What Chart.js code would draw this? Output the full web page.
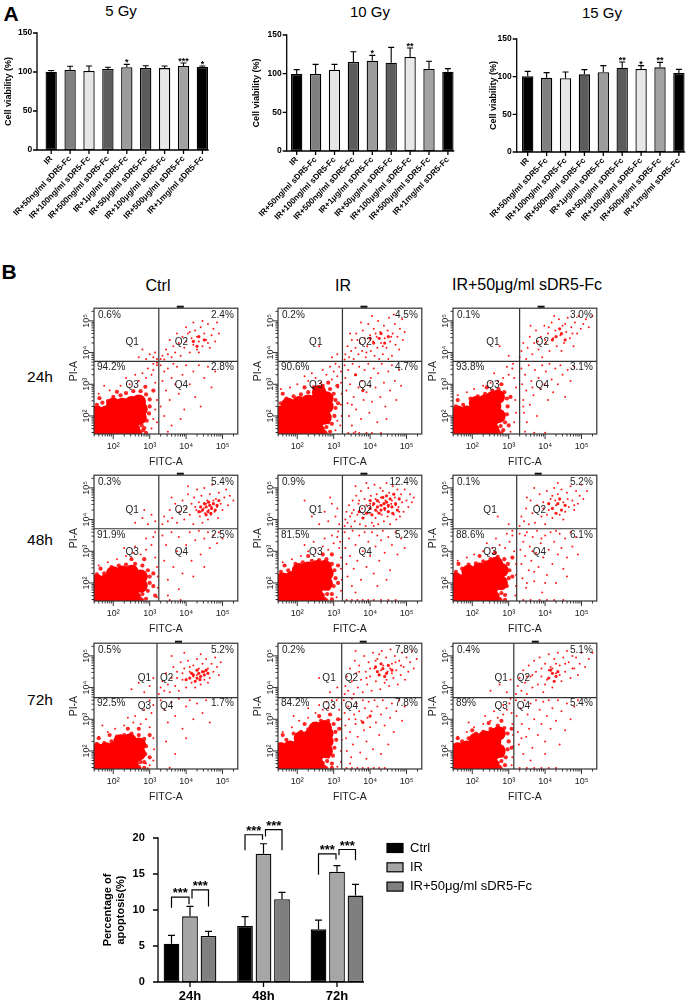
<!DOCTYPE html>
<html><head><meta charset="utf-8">
<script src="https://cdn.jsdelivr.net/npm/chart.js@4.4.1/dist/chart.umd.min.js"></script>
<style>
html,body{margin:0;padding:0;background:#fff}
body{position:relative;width:699px;height:1003px;overflow:hidden;font-family:'Liberation Sans',Arial,sans-serif}
canvas{position:absolute}
.t{position:absolute;transform:translate(-50%,-50%);white-space:nowrap;line-height:1;color:#000}
</style></head><body>
<div class="t" style="left:11px;top:13px;font-size:21px;font-weight:bold">A</div>
<div class="t" style="left:121px;top:10px;font-size:15px">5 Gy</div>
<div class="t" style="left:370px;top:11px;font-size:15px">10 Gy</div>
<div class="t" style="left:602px;top:12px;font-size:15px">15 Gy</div>
<div class="t" style="left:9px;top:271px;font-size:21px;font-weight:bold">B</div>
<div class="t" style="left:158px;top:286px;font-size:16px">Ctrl</div>
<div class="t" style="left:343px;top:286px;font-size:16px">IR</div>
<div class="t" style="left:527px;top:285px;font-size:16px">IR+50μg/ml sDR5-Fc</div>
<div class="t" style="left:40px;top:377px;font-size:15.5px">24h</div>
<div class="t" style="left:40px;top:540px;font-size:15.5px">48h</div>
<div class="t" style="left:40px;top:700px;font-size:15.5px">72h</div>
<script>
// ================= DATA =================
// Panel A: cell viability (%)
const doseLabels = ['IR','IR+50ng/ml sDR5-Fc','IR+100ng/ml sDR5-Fc','IR+500ng/ml sDR5-Fc','IR+1μg/ml sDR5-Fc','IR+50μg/ml sDR5-Fc','IR+100μg/ml sDR5-Fc','IR+500μg/ml sDR5-Fc','IR+1mg/ml sDR5-Fc'];
const via5 = [100.4,102.6,101.3,103.8,106,105,105,107.7,106.4];
const err5 = [1.6,4.7,6.4,2.2,3.8,3,2.7,3.8,1.3];
const sig5 = ['','','','','*','','','***','*'];
const via10 = [99.6,99.6,105.2,115,116.8,114.2,121.5,106,102.6];
const err10 = [5.6,12.4,6.8,13.4,6.9,19.8,11.7,10,3.9];
const sig10 = ['','','','','*','','**','',''];
const via15 = [100.4,98.7,97.8,103.1,105.8,112,110.2,112.4,104.9];
const err15 = [6.6,6.6,8.4,6.2,8.8,7.5,4.4,6.6,4.8];
const sig15 = ['','','','','','**','*','**',''];
const viaTicks = [0,50,100,150];

// Panel B bottom: percentage of apoptosis
const timeLabels = ['24h','48h','72h'];
const groupNames = ['Ctrl','IR','IR+50μg/ml sDR5-Fc'];
const apoCtrl = [5.32,7.78,7.31], apoCtrlErr = [1.16,1.29,1.29];
const apoIR = [9.12,17.8,15.3], apoIRErr = [1.38,1.4,0.85];
const apoSdr = [6.39,11.5,12.0], apoSdrErr = [0.65,0.95,1.56];
const apoTicks = [0,5,10,15,20];
const sigBrackets = [
  {g:0,a:0,b:1,top:11.8,la:10.3,lb:10.8,text:'***'},
  {g:0,a:1,b:2,top:12.8,la:11.6,lb:10.5,text:'***'},
  {g:1,a:0,b:1,top:20.45,la:18.3,lb:19.75,text:'***'},
  {g:1,a:1,b:2,top:21.15,la:20.2,lb:18.3,text:'***'},
  {g:2,a:0,b:1,top:17.8,la:14.9,lb:17.0,text:'***'},
  {g:2,a:1,b:2,top:18.4,la:17.6,lb:16.9,text:'***'}
];

// Flow cytometry (log10 FITC-A, log10 PI-A)
const flowDecades = [2,3,4,5];
const pct24 = [['0.6%','2.4%','94.2%','2.8%'],['0.2%','4.5%','90.6%','4.7%'],['0.1%','3.0%','93.8%','3.1%']];
const pct48 = [['0.3%','5.4%','91.9%','2.5%'],['0.9%','12.4%','81.5%','5.2%'],['0.1%','5.2%','88.6%','6.1%']];
const pct72 = [['0.5%','5.2%','92.5%','1.7%'],['0.2%','7.8%','84.2%','7.8%'],['0.4%','5.1%','89%','5.4%']];
const gateFITC = [[3.25,3.24,3.3],[3.25,3.24,3.22],[3.2,3.22,3.14]];
const gatePI = [3.72,3.71,3.68];

// --- 24h Ctrl
const c24Core = [[1.55,1.55],[1.8,1.55],[2.05,1.55],[2.3,1.55],[2.55,1.55],[1.55,1.85],[1.8,1.85],[2.05,1.85],[2.3,1.85],[2.55,1.85],[2.72,1.95],[1.55,2.1],[1.8,2.1],[2.05,2.1],[2.3,2.1],[2.55,2.15],[2.75,2.22],[2.0,2.35],[2.25,2.35],[2.5,2.4],[2.7,2.45]];
const c24Fringe = [[1.55,2.35],[1.7,2.42],[1.85,2.47],[2.0,2.6],[2.2,2.65],[2.35,2.72],[2.55,2.78],[2.75,2.78],[2.9,2.68],[3.0,2.52],[3.0,2.3],[2.98,2.08],[2.92,1.85],[2.85,1.62],[2.9,1.47],[1.62,2.56],[2.1,2.76],[2.88,2.92],[3.1,2.8],[2.72,1.5],[2.78,1.7],[2.68,1.62],[2.82,1.55],[2.75,1.45]];
const c24Clust = [[4.2,4.35],[4.35,4.5],[4.5,4.4],[4.3,4.2]];
const c24Dots = [[1.6,2.7],[1.9,2.8],[2.2,2.95],[2.45,3.0],[2.7,3.1],[2.9,3.2],[3.05,3.3],[3.1,3.45],[3.2,3.6],[2.95,3.5],[2.8,3.35],[3.15,3.05],[3.2,2.5],[3.15,2.2],[3.2,1.8],[2.6,3.3],[3.1,3.65],[3.2,3.68],[1.75,2.95],[2.35,3.2],[3.05,1.6],[3.1,1.9],
 [2.7,3.85],[2.9,3.8],[3.0,3.95],[3.1,3.85],[3.15,4.0],[3.2,3.8],[2.8,4.1],
 [3.3,3.8],[3.35,3.9],[3.4,3.78],[3.5,3.95],[3.45,4.1],[3.6,3.85],[3.65,4.2],[3.7,4.0],[3.8,4.3],[3.85,3.9],[3.9,4.5],[3.95,4.15],[4.0,4.35],[4.05,4.6],[4.1,4.0],[4.15,4.45],[4.2,4.25],[4.25,4.7],[4.3,4.1],[4.3,4.5],[4.35,4.35],[4.4,4.8],[4.45,4.2],[4.5,4.6],[4.55,4.4],[4.6,4.9],[4.65,4.15],[4.7,4.55],[4.75,4.75],[4.8,4.35],[4.85,4.95],[4.9,4.6],[4.2,4.95],[4.45,5.0],[3.75,4.6],[4.0,4.8],[4.6,4.3],[4.35,4.0],[3.55,4.4],[4.1,4.65],
 [3.3,3.6],[3.4,3.4],[3.35,3.1],[3.45,2.8],[3.5,3.5],[3.6,3.2],[3.55,2.5],[3.7,3.0],[3.75,3.55],[3.8,2.7],[3.9,3.3],[3.95,2.2],[4.0,3.6],[4.1,3.0],[4.2,3.4],[4.25,2.6],[4.35,3.6],[4.5,3.2],[4.6,3.55],[4.7,2.9],[3.4,2.0],[3.6,1.7],[3.3,2.3],[3.85,1.9],[4.4,2.3],[3.5,1.5],[3.65,3.65],[4.8,3.4]];
// --- 24h IR
const i24Core = [[1.55,1.55],[1.8,1.55],[2.05,1.55],[2.3,1.55],[2.55,1.55],[1.55,1.85],[1.8,1.85],[2.05,1.85],[2.3,1.85],[2.55,1.85],[2.75,1.95],[1.55,2.1],[1.8,2.15],[2.05,2.15],[2.3,2.15],[2.55,2.2],[2.8,2.3],[1.75,2.35],[2.05,2.4],[2.3,2.45],[2.55,2.5],[2.8,2.55],[2.6,2.75]];
const i24Fringe = [[1.55,2.4],[1.7,2.55],[1.9,2.62],[2.1,2.68],[2.3,2.75],[2.45,2.9],[2.7,2.95],[2.9,2.85],[3.0,2.7],[3.05,2.5],[3.05,2.25],[3.02,2.0],[2.95,1.75],[2.9,1.5],[2.85,3.05],[3.1,2.95],[1.6,2.7],[2.2,2.9],[3.12,2.4],[2.75,1.5],[2.8,1.65],[2.7,1.6],[2.85,1.8],[2.78,1.45]];
const i24Clust = [[4.1,4.3],[4.25,4.45],[4.4,4.3],[4.3,4.6],[4.5,4.5],[4.0,4.45],[3.6,3.3],[3.8,2.8]];
const i24Dots = [[3.3,3.78],[3.32,3.95],[3.38,4.2],[3.42,3.85],[3.48,4.05],[3.5,4.4],[3.55,3.8],[3.6,4.15],[3.62,4.6],[3.68,3.95],[3.72,4.3],[3.78,4.05],[3.8,4.7],[3.85,4.45],[3.88,3.85],[3.92,4.2],[3.95,4.9],[4.0,4.55],[4.02,4.05],[4.08,4.35],[4.1,4.75],[4.12,3.9],[4.18,4.5],[4.2,4.15],[4.22,5.0],[4.28,4.65],[4.3,4.3],[4.35,3.95],[4.38,4.85],[4.4,4.45],[4.45,4.15],[4.48,4.7],[4.52,5.1],[4.55,4.35],[4.6,3.9],[4.62,4.6],[4.68,4.9],[4.7,4.25],[4.75,4.5],[4.8,4.1],[4.82,4.75],[4.88,5.05],[4.9,4.4],[4.95,4.65],[3.45,4.6],[3.75,4.95],[4.05,5.15],[4.25,3.8],[4.5,3.8],[4.65,5.2],[3.9,4.0],[4.15,4.6],[4.35,4.2],[4.58,4.5],[3.65,4.4],
 [3.3,3.6],[3.32,3.2],[3.35,2.8],[3.38,2.4],[3.4,3.45],[3.42,2.0],[3.45,3.0],[3.5,1.7],[3.52,3.65],[3.55,2.6],[3.6,3.3],[3.62,2.2],[3.68,2.9],[3.7,3.55],[3.75,1.9],[3.78,3.1],[3.82,2.5],[3.85,3.45],[3.9,2.75],[3.95,3.65],[3.98,2.1],[4.02,3.2],[4.05,2.45],[4.1,3.5],[4.15,2.9],[4.2,1.8],[4.22,3.35],[4.28,2.6],[4.32,3.65],[4.38,3.05],[4.42,2.3],[4.5,3.4],[4.55,2.8],[4.6,3.6],[4.68,3.1],[4.72,2.5],[4.8,3.45],[4.85,2.95],[3.4,1.46],[3.55,1.46],[3.7,1.46],[3.9,1.46],[4.05,1.46],[4.3,1.46],[3.6,1.5],[4.45,1.9],[4.0,2.95],[3.5,2.35],
 [1.55,2.85],[1.8,2.9],[2.0,3.0],[2.3,3.1],[2.5,3.2],[2.65,3.05],[2.8,3.3],[2.95,3.15],[3.0,3.4],[3.1,3.25],[3.15,3.55],[3.2,3.05],[3.22,2.7],[3.2,2.35],[3.22,2.0],[3.18,1.7],[2.9,3.55],[3.05,3.65],[2.7,3.45],[2.4,3.35],[3.2,3.4],[3.12,2.9],[2.2,3.25],[3.05,1.55],[3.1,1.85],
 [2.95,3.85],[3.1,3.95],[2.6,4.2]];
// --- 24h sDR5-Fc
const s24Core = [[1.55,1.55],[1.8,1.55],[2.05,1.55],[2.3,1.55],[2.55,1.55],[1.55,1.85],[1.8,1.85],[2.05,1.85],[2.3,1.85],[2.55,1.9],[2.72,2.0],[1.6,2.1],[1.85,2.1],[2.1,2.15],[2.35,2.2],[2.6,2.3],[2.1,2.4],[2.35,2.45],[2.55,2.55],[2.7,2.6]];
const s24Fringe = [[1.55,2.3],[1.75,2.35],[1.95,2.55],[2.15,2.62],[2.35,2.7],[2.55,2.8],[2.72,2.85],[2.88,2.75],[2.95,2.55],[2.97,2.3],[2.95,2.05],[2.9,1.8],[2.85,1.55],[1.6,2.5],[2.4,2.9],[2.8,3.0],[3.05,2.6],[3.0,1.7],[2.72,1.5],[2.78,1.68],[2.68,1.62],[2.8,1.45]];
const s24Clust = [[4.3,4.5],[4.45,4.6],[4.55,4.4],[4.2,4.4],[4.4,4.75]];
const s24Dots = [[3.3,3.85],[3.35,4.05],[3.4,4.3],[3.48,3.8],[3.52,4.15],[3.58,4.5],[3.65,3.95],[3.7,4.3],[3.75,4.7],[3.82,4.1],[3.88,4.5],[3.92,3.85],[3.98,4.85],[4.02,4.3],[4.08,4.6],[4.12,4.05],[4.18,4.95],[4.22,4.45],[4.28,4.7],[4.32,4.2],[4.38,5.05],[4.42,4.55],[4.48,4.85],[4.52,4.3],[4.58,4.65],[4.62,5.1],[4.68,4.45],[4.72,4.8],[4.78,4.2],[4.82,4.95],[4.88,4.6],[4.92,5.15],[4.98,4.75],[5.05,4.9],[5.12,5.05],[5.2,4.8],[5.3,5.15],[4.1,4.8],[4.45,4.05],[3.6,4.85],[4.25,5.15],[4.75,4.6],[4.0,4.4],[4.55,4.9],[3.8,4.35],
 [3.35,3.5],[3.37,3.0],[3.4,2.5],[3.42,2.1],[3.45,3.3],[3.48,2.8],[3.5,1.8],[3.55,3.6],[3.58,2.35],[3.62,3.1],[3.68,2.65],[3.72,3.45],[3.78,2.0],[3.82,3.2],[3.88,2.85],[3.92,3.6],[3.98,3.0],[4.02,3.4],[4.08,2.5],[4.12,3.65],[4.18,3.15],[4.22,2.75],[4.28,3.5],[4.35,3.0],[4.42,3.6],[4.48,3.3],[4.55,2.6],[4.62,3.45],[4.7,3.1],[4.8,3.55],[3.45,1.5],[3.7,1.47],[4.0,1.47],[3.4,2.3],[3.65,2.9],
 [1.6,2.65],[1.85,2.75],[2.05,2.85],[2.3,2.95],[2.5,3.05],[2.7,3.1],[2.85,3.2],[3.0,3.3],[3.1,3.5],[3.15,3.2],[3.2,2.9],[3.18,2.5],[3.2,2.1],[3.15,1.8],[2.95,3.55],[3.12,3.65],[2.6,3.35],[3.05,1.5],
 [3.0,3.9],[2.75,4.2]];
// --- 48h Ctrl
const c48Core = [[1.55,1.55],[1.8,1.55],[2.05,1.55],[2.3,1.55],[2.55,1.55],[1.55,1.8],[1.8,1.8],[2.05,1.8],[2.3,1.8],[2.55,1.85],[2.75,1.92],[1.55,2.05],[1.8,2.05],[2.05,2.1],[2.3,2.1],[2.55,2.15],[2.75,2.2],[2.0,2.3],[2.25,2.32],[2.5,2.35]];
const c48Fringe = [[1.55,2.27],[1.75,2.3],[1.95,2.5],[2.15,2.55],[2.35,2.58],[2.6,2.6],[2.8,2.55],[2.95,2.4],[3.0,2.2],[3.0,2.0],[2.95,1.75],[2.9,1.5],[3.1,1.9],[3.15,1.6],[1.65,2.45],[2.5,2.75],[2.85,2.75],[3.1,2.3],[2.75,1.5],[2.8,1.65],[2.7,1.6],[2.85,1.8],[2.8,1.45]];
const c48Clust = [[4.45,4.3],[4.55,4.4],[4.6,4.25],[4.65,4.45],[4.7,4.35],[4.75,4.5],[4.5,4.5],[4.8,4.3],[4.4,4.4],[4.62,4.55],[4.85,4.45],[4.68,4.2],[4.55,4.15],[4.9,4.6],[4.35,4.25]];
const c48Dots = [[3.35,3.85],[3.4,4.1],[3.5,3.95],[3.55,4.3],[3.62,4.05],[3.7,4.5],[3.75,3.9],[3.82,4.25],[3.9,4.6],[3.95,4.0],[4.0,4.35],[4.05,4.8],[4.1,4.15],[4.15,4.5],[4.2,3.85],[4.22,4.7],[4.28,4.3],[4.3,4.95],[4.35,4.55],[4.38,4.1],[4.42,4.75],[4.48,4.35],[4.5,5.0],[4.52,4.2],[4.58,4.6],[4.6,4.0],[4.65,4.8],[4.7,4.4],[4.72,5.1],[4.78,4.25],[4.82,4.65],[4.88,4.05],[4.9,4.85],[4.95,4.5],[5.0,4.3],[5.05,4.7],[5.1,4.95],[5.15,4.45],[5.2,4.75],[5.3,4.6],[4.45,3.9],[4.25,4.4],[4.62,4.3],[4.75,4.6],[4.55,4.5],[4.85,4.4],[4.4,4.25],[4.68,4.15],[3.6,4.7],[4.05,5.05],
 [3.35,3.5],[3.4,2.7],[3.45,3.2],[3.5,2.1],[3.6,3.6],[3.65,2.5],[3.75,3.0],[3.8,3.45],[3.9,2.3],[4.0,3.2],[4.1,3.6],[4.15,2.7],[4.25,3.35],[4.35,3.65],[4.4,2.9],[4.5,3.4],[4.6,3.6],[4.65,3.1],[4.75,3.5],[4.85,3.25],[4.9,3.6],[5.0,3.4],[3.5,1.6],[3.8,1.8],[4.2,2.2],[3.55,1.46],[3.85,1.46],[4.5,2.5],
 [1.6,2.55],[1.85,2.65],[2.1,2.75],[2.35,2.85],[2.55,2.95],[2.75,2.9],[2.9,3.05],[3.05,3.2],[3.1,3.45],[3.15,2.8],[3.2,2.5],[3.22,2.2],[3.22,1.85],[3.2,1.55],[2.9,3.4],[3.15,3.6],[2.6,3.15],[2.3,3.1],
 [2.6,3.9],[2.8,4.05],[2.95,3.85],[3.05,4.15],[3.15,3.95],[2.85,4.3]];
// --- 48h IR
const i48Core = [[1.55,1.55],[1.8,1.55],[2.05,1.55],[2.3,1.55],[2.55,1.55],[1.55,1.85],[1.8,1.85],[2.05,1.85],[2.3,1.85],[2.55,1.9],[2.78,1.98],[1.6,2.1],[1.85,2.15],[2.1,2.15],[2.35,2.2],[2.6,2.25],[2.8,2.3],[2.05,2.4],[2.3,2.45],[2.55,2.5],[2.75,2.5]];
const i48Fringe = [[1.55,2.35],[1.75,2.4],[1.95,2.6],[2.15,2.65],[2.4,2.7],[2.6,2.72],[2.8,2.75],[2.95,2.6],[3.02,2.4],[3.05,2.15],[3.0,1.9],[2.95,1.65],[2.95,1.48],[1.65,2.55],[2.3,2.85],[2.7,2.9],[2.95,2.9],[3.12,2.55],[3.12,2.0],[2.75,1.5],[2.82,1.65],[2.7,1.62],[2.85,1.82],[2.8,1.45]];
const i48Clust = [[3.9,4.2],[4.0,4.35],[4.05,4.15],[4.1,4.5],[4.15,4.3],[4.2,4.6],[4.25,4.2],[4.3,4.45],[4.35,4.7],[4.4,4.35],[4.45,4.55],[4.5,4.25],[4.55,4.65],[4.6,4.4],[4.65,4.8],[4.7,4.5],[4.75,4.3],[4.8,4.65],[4.2,4.4],[4.38,4.5],[4.5,4.45],[3.8,4.05],[3.7,4.25],[4.0,4.6],[4.62,4.2],[4.3,4.3],[4.45,4.75]];
const i48Dots = [[3.3,3.8],[3.32,4.0],[3.35,4.25],[3.38,3.9],[3.42,4.45],[3.45,4.1],[3.48,3.78],[3.52,4.6],[3.55,4.3],[3.58,3.95],[3.62,4.75],[3.65,4.15],[3.68,4.5],[3.72,3.85],[3.75,4.9],[3.78,4.35],[3.82,4.05],[3.85,4.65],[3.88,3.8],[3.9,4.45],[3.95,5.0],[3.98,4.2],[4.02,4.75],[4.05,3.9],[4.08,4.45],[4.12,5.1],[4.15,4.05],[4.18,4.8],[4.22,3.85],[4.25,4.55],[4.28,5.0],[4.32,4.15],[4.35,4.9],[4.38,3.95],[4.42,4.6],[4.45,5.15],[4.48,4.1],[4.52,4.85],[4.55,3.85],[4.58,4.5],[4.62,5.05],[4.65,4.15],[4.68,4.7],[4.72,4.0],[4.75,4.95],[4.78,4.4],[4.82,4.1],[4.85,4.8],[4.88,4.55],[4.92,4.25],[4.95,4.95],[5.0,4.6],[5.05,4.4],[5.1,4.8],[5.15,4.55],[5.2,4.7],[3.6,5.05],[3.9,5.15],[4.1,3.8],[4.4,4.3],[4.6,4.6],[4.3,4.7],[4.0,4.5],[4.2,4.25],[4.5,4.4],[3.7,4.6],[4.8,4.25],[4.15,4.65],[4.7,4.45],[3.5,4.2],
 [3.3,3.6],[3.32,3.1],[3.35,2.6],[3.38,2.2],[3.42,3.4],[3.45,2.85],[3.5,1.9],[3.52,3.65],[3.55,2.45],[3.6,3.2],[3.65,2.7],[3.7,3.5],[3.75,2.1],[3.8,3.0],[3.85,3.6],[3.9,2.5],[3.95,3.3],[4.0,2.85],[4.05,3.6],[4.1,2.3],[4.15,3.15],[4.2,3.5],[4.25,2.7],[4.3,3.35],[4.35,3.65],[4.4,2.95],[4.5,3.45],[4.55,2.4],[4.6,3.2],[4.7,3.6],[4.75,2.9],[4.85,3.4],[4.95,3.1],[3.35,1.46],[3.5,1.46],[3.65,1.46],[3.8,1.46],[3.95,1.46],[4.1,1.46],[4.3,1.46],[4.5,1.46],[4.7,1.46],[3.6,1.7],[4.2,1.9],[4.45,2.1],
 [1.6,2.65],[1.85,2.75],[2.1,2.85],[2.3,3.0],[2.5,3.05],[2.7,3.15],[2.85,3.05],[3.0,3.25],[3.1,3.45],[3.15,3.1],[3.2,2.8],[3.2,2.45],[3.22,2.1],[3.2,1.75],[2.95,3.5],[3.12,3.62],[2.75,3.4],[2.45,3.3],[3.18,3.3],[2.2,3.2],[3.08,1.55],
 [2.4,4.1],[2.6,3.85],[2.75,4.25],[2.85,3.95],[2.95,4.5],[3.05,4.1],[3.15,3.85],[3.1,4.35],[2.2,4.6],[2.9,4.7]];
// --- 48h sDR5-Fc
const s48Core = [[1.55,1.55],[1.8,1.55],[2.05,1.55],[2.3,1.55],[2.55,1.55],[1.55,1.85],[1.8,1.85],[2.05,1.85],[2.3,1.85],[2.55,1.9],[2.78,2.0],[1.55,2.1],[1.85,2.12],[2.1,2.15],[2.35,2.2],[2.6,2.3],[2.8,2.4],[1.9,2.35],[2.2,2.42],[2.45,2.5],[2.65,2.6]];
const s48Fringe = [[1.55,2.35],[1.72,2.45],[1.9,2.58],[2.1,2.62],[2.3,2.68],[2.5,2.75],[2.7,2.82],[2.88,2.75],[2.98,2.6],[3.02,2.4],[3.0,2.15],[2.95,1.9],[2.9,1.62],[2.9,1.47],[1.62,2.6],[2.2,2.85],[2.62,2.95],[3.1,2.8],[3.1,2.2],[2.75,1.5],[2.8,1.68],[2.7,1.62],[2.85,1.85],[2.78,1.45]];
const s48Clust = [[4.2,4.35],[4.35,4.5],[4.45,4.3],[4.3,4.2],[4.55,4.45],[4.1,4.5],[4.4,4.65]];
const s48Dots = [[3.3,3.8],[3.35,4.1],[3.42,3.95],[3.48,4.35],[3.55,3.85],[3.6,4.6],[3.65,4.2],[3.72,3.9],[3.78,4.45],[3.85,4.8],[3.9,4.1],[3.95,4.55],[4.0,3.85],[4.05,4.9],[4.1,4.3],[4.15,4.65],[4.2,4.05],[4.25,5.0],[4.3,4.45],[4.35,4.8],[4.4,4.15],[4.45,4.95],[4.5,4.55],[4.55,4.25],[4.6,4.85],[4.65,4.4],[4.7,5.05],[4.75,4.6],[4.8,4.3],[4.85,4.9],[4.9,4.5],[4.95,4.75],[5.0,5.1],[5.05,4.65],[5.15,4.9],[3.7,5.0],[4.2,4.75],[4.5,4.0],[3.95,4.35],[4.62,4.65],[3.5,4.7],[4.35,5.15],[4.8,4.45],[4.05,4.15],[4.28,4.6],
 [3.3,3.55],[3.32,3.05],[3.35,2.6],[3.38,2.15],[3.4,3.3],[3.45,2.85],[3.48,1.85],[3.5,3.6],[3.55,2.4],[3.58,3.15],[3.62,2.7],[3.66,3.45],[3.7,2.05],[3.75,2.95],[3.78,3.65],[3.82,2.5],[3.88,3.25],[3.92,1.7],[3.95,2.8],[4.0,3.5],[4.05,2.25],[4.1,3.05],[4.15,3.6],[4.2,2.6],[4.25,3.3],[4.3,2.0],[4.35,2.9],[4.4,3.55],[4.45,3.1],[4.5,2.45],[4.55,3.4],[4.6,2.8],[4.7,3.6],[4.75,3.15],[4.85,3.45],[4.9,2.9],[3.4,1.46],[3.6,1.46],[3.85,1.46],[4.05,1.46],[4.25,1.46],[4.5,1.46],[3.5,2.0],[3.7,2.35],[4.0,2.0],[3.65,3.0],[3.9,3.4],[4.3,3.65],[3.45,3.5],[4.6,2.2],
 [1.6,2.7],[1.85,2.8],[2.05,2.9],[2.3,3.0],[2.55,3.1],[2.75,3.2],[2.9,3.1],[3.02,3.3],[3.1,3.5],[3.15,3.0],[3.2,2.6],[3.2,2.25],[3.2,1.9],[3.18,1.6],[2.95,3.55],[3.1,3.65],[2.65,3.4],[2.4,3.25],
 [3.0,3.85],[2.7,4.1]];
// --- 72h Ctrl
const c72Core = [[1.55,1.52],[1.8,1.52],[2.05,1.52],[2.3,1.52],[2.5,1.52],[1.55,1.8],[1.8,1.8],[2.05,1.8],[2.3,1.8],[2.55,1.82],[2.7,1.92],[1.55,2.02],[1.8,2.05],[2.05,2.08],[2.3,2.1],[2.55,2.15],[2.7,2.2],[2.2,2.3],[2.45,2.32]];
const c72Fringe = [[1.55,2.22],[1.75,2.25],[1.95,2.3],[2.1,2.45],[2.3,2.5],[2.5,2.55],[2.7,2.5],[2.85,2.38],[2.9,2.15],[2.88,1.9],[2.85,1.65],[2.85,1.47],[1.6,2.4],[1.9,2.5],[2.4,2.7],[2.7,2.7],[3.0,2.5],[3.0,1.8],[2.7,1.5],[2.75,1.65],[2.65,1.6],[2.72,1.45]];
const c72Clust = [[4.1,4.3],[4.2,4.4],[4.3,4.3],[4.35,4.45],[4.4,4.35],[4.45,4.5],[4.25,4.2],[4.5,4.4],[4.55,4.55],[4.15,4.45],[4.38,4.25],[4.6,4.45],[4.0,4.25],[4.3,4.55]];
const c72Dots = [[3.25,3.8],[3.3,4.0],[3.35,4.2],[3.4,3.9],[3.45,4.45],[3.5,4.1],[3.55,3.85],[3.6,4.3],[3.65,4.65],[3.7,4.05],[3.75,4.5],[3.8,3.9],[3.85,4.8],[3.9,4.25],[3.95,4.6],[4.0,4.0],[4.05,4.85],[4.1,4.5],[4.15,4.15],[4.2,4.7],[4.25,4.0],[4.3,4.9],[4.35,4.6],[4.4,4.1],[4.45,4.75],[4.5,4.25],[4.55,4.9],[4.6,4.6],[4.65,4.3],[4.7,4.75],[4.75,4.5],[4.8,4.95],[4.85,4.65],[4.9,4.4],[4.95,4.8],[3.6,5.0],[3.95,5.1],[4.4,5.05],[3.75,4.3],[4.1,4.65],[4.5,4.5],[4.2,4.35],[4.6,4.15],[3.9,4.45],[4.3,4.4],
 [3.3,3.6],[3.4,3.3],[3.5,2.9],[3.6,3.55],[3.7,3.1],[3.8,3.65],[3.9,2.7],[4.0,3.4],[4.1,3.6],[4.2,3.0],[4.3,3.5],[4.45,3.2],[4.55,3.6],[4.65,2.9],[3.45,2.3],[3.7,1.9],[4.0,2.4],[3.55,1.47],
 [1.6,2.45],[1.85,2.6],[2.05,2.7],[2.3,2.8],[2.55,2.9],[2.75,2.85],[2.9,3.0],[3.0,2.75],[3.05,3.2],[3.1,3.45],[3.1,2.4],[3.12,2.05],[3.1,1.7],[2.85,3.3],[2.6,3.1],[3.0,3.6],[2.4,3.05],[1.7,2.8],[2.95,1.45],[3.0,1.55],[2.9,1.6],
 [2.5,3.95],[2.7,4.15],[2.85,3.85],[3.0,4.05],[3.1,4.3]];
// --- 72h IR
const i72Core = [[1.55,1.55],[1.8,1.55],[2.05,1.55],[2.3,1.55],[2.55,1.55],[1.55,1.85],[1.8,1.85],[2.05,1.85],[2.3,1.85],[2.55,1.9],[2.78,2.0],[1.55,2.05],[1.8,2.1],[2.05,2.15],[2.3,2.2],[2.55,2.25],[2.8,2.3],[2.1,2.4],[2.35,2.45],[2.6,2.5],[2.8,2.55],[2.5,2.7],[2.75,2.75]];
const i72Fringe = [[1.55,2.2],[1.7,2.35],[1.9,2.55],[2.1,2.6],[2.3,2.68],[2.45,2.85],[2.65,2.95],[2.85,2.95],[3.0,2.85],[3.05,2.6],[3.07,2.35],[3.02,2.1],[2.98,1.85],[2.95,1.6],[2.95,1.47],[1.6,2.5],[2.2,2.85],[2.6,3.1],[2.9,3.15],[3.12,3.0],[3.15,2.7],[2.75,1.5],[2.82,1.68],[2.7,1.62],[2.85,1.82],[2.8,1.45]];
const i72Clust = [[4.2,4.5],[4.35,4.6],[4.45,4.45],[4.3,4.75],[4.5,4.7],[4.15,4.65],[4.4,4.35],[4.6,4.55],[4.25,4.4],[3.8,2.9],[4.0,3.1]];
const i72Dots = [[3.3,3.8],[3.32,4.05],[3.36,4.35],[3.4,3.9],[3.45,4.6],[3.5,4.2],[3.55,3.8],[3.58,4.85],[3.62,4.45],[3.66,4.0],[3.7,4.7],[3.75,4.25],[3.8,3.85],[3.84,5.0],[3.88,4.5],[3.92,4.1],[3.96,4.8],[4.0,4.35],[4.04,3.9],[4.08,5.1],[4.12,4.6],[4.16,4.2],[4.2,4.9],[4.24,4.4],[4.28,3.95],[4.32,5.15],[4.36,4.7],[4.4,4.15],[4.44,4.95],[4.48,4.5],[4.52,4.05],[4.56,5.2],[4.6,4.75],[4.64,4.3],[4.68,5.0],[4.72,4.55],[4.76,4.1],[4.8,4.85],[4.84,4.4],[4.88,5.1],[4.92,4.65],[4.96,4.25],[5.0,4.95],[5.05,4.5],[5.1,4.8],[5.15,5.15],[5.2,4.6],[5.28,4.9],[3.6,5.15],[4.0,4.6],[4.3,4.55],[4.55,4.6],[4.15,4.85],[4.7,4.8],[3.9,4.3],[4.45,4.25],[4.85,4.7],[4.25,5.05],[3.7,4.5],[4.6,4.45],
 [3.28,3.6],[3.3,3.2],[3.32,2.8],[3.34,2.4],[3.36,2.0],[3.4,3.4],[3.42,3.0],[3.45,2.6],[3.48,1.8],[3.5,3.65],[3.53,2.2],[3.56,3.15],[3.6,2.85],[3.63,3.5],[3.66,2.45],[3.7,3.25],[3.73,1.95],[3.76,2.95],[3.8,3.6],[3.83,2.65],[3.86,3.35],[3.9,2.3],[3.93,3.05],[3.96,3.55],[4.0,2.75],[4.04,3.25],[4.08,2.05],[4.12,3.6],[4.16,2.9],[4.2,3.4],[4.25,2.5],[4.3,3.15],[4.35,3.6],[4.4,2.8],[4.45,3.35],[4.5,2.2],[4.55,3.05],[4.6,3.5],[4.65,2.6],[4.72,3.25],[4.8,3.6],[4.88,2.95],[4.95,3.4],[3.35,1.46],[3.5,1.46],[3.65,1.46],[3.8,1.46],[3.95,1.46],[4.1,1.46],[4.25,1.46],[4.4,1.46],[3.45,1.6],[3.9,1.75],[4.3,1.9],[3.6,3.0],
 [1.6,2.6],[1.85,2.75],[2.05,2.95],[2.3,3.05],[2.5,3.2],[2.7,3.3],[2.85,3.35],[3.0,3.45],[3.08,3.6],[3.15,3.3],[3.2,3.0],[3.2,2.7],[3.22,2.35],[3.2,2.0],[3.2,1.65],[2.95,3.6],[2.6,3.45],[2.3,3.35],[3.12,3.68],[1.9,3.1],[2.8,3.55],[3.1,1.5],
 [2.9,3.85],[3.1,4.0],[2.6,4.3]];
// --- 72h sDR5-Fc
const s72Core = [[1.55,1.55],[1.8,1.55],[2.05,1.55],[2.3,1.55],[2.55,1.55],[1.55,1.82],[1.8,1.85],[2.05,1.85],[2.3,1.85],[2.55,1.9],[2.72,2.0],[1.6,2.05],[1.85,2.1],[2.1,2.15],[2.35,2.2],[2.6,2.3],[2.1,2.35],[2.35,2.42],[2.6,2.5],[2.72,2.55]];
const s72Fringe = [[1.55,2.15],[1.72,2.3],[1.9,2.4],[2.1,2.55],[2.3,2.6],[2.5,2.7],[2.7,2.8],[2.88,2.72],[2.97,2.55],[3.0,2.3],[2.97,2.05],[2.92,1.8],[2.9,1.55],[1.6,2.4],[2.0,2.65],[2.45,2.88],[2.8,2.95],[3.08,2.7],[3.08,2.1],[2.75,1.5],[2.8,1.68],[2.7,1.62],[2.82,1.85],[2.78,1.45]];
const s72Clust = [[4.1,4.3],[4.2,4.45],[4.3,4.35],[4.15,4.55],[4.35,4.5],[4.25,4.2]];
const s72Dots = [[3.2,3.8],[3.25,4.05],[3.3,4.3],[3.35,3.9],[3.4,4.55],[3.45,4.15],[3.5,3.8],[3.55,4.7],[3.6,4.35],[3.65,4.0],[3.7,4.85],[3.75,4.5],[3.8,4.1],[3.85,4.95],[3.9,4.6],[3.95,3.85],[4.0,4.75],[4.05,4.25],[4.1,5.05],[4.15,4.65],[4.2,4.0],[4.25,4.9],[4.3,4.45],[4.35,5.1],[4.4,4.7],[4.45,4.2],[4.5,4.95],[4.55,4.5],[4.6,5.15],[4.65,4.8],[4.7,4.3],[4.75,5.0],[4.8,4.6],[4.85,4.95],[4.9,4.4],[4.95,4.75],[5.0,5.1],[5.1,4.65],[5.2,4.9],[5.3,5.1],[3.9,4.35],[4.1,4.55],[4.4,4.4],[3.65,4.4],[4.55,4.75],[4.0,4.1],[4.3,4.75],[4.75,4.6],[3.5,4.35],[4.2,4.6],
 [3.2,3.6],[3.22,3.1],[3.25,2.6],[3.28,2.2],[3.32,3.35],[3.36,2.85],[3.4,1.9],[3.44,3.6],[3.48,2.45],[3.52,3.15],[3.56,2.7],[3.6,3.5],[3.65,2.1],[3.7,3.0],[3.75,3.6],[3.8,2.5],[3.85,3.3],[3.9,2.85],[3.95,3.55],[4.0,2.3],[4.05,3.1],[4.1,3.6],[4.15,2.7],[4.2,3.35],[4.3,2.95],[4.35,3.6],[4.45,3.25],[4.55,2.65],[4.6,3.5],[4.7,3.0],[4.8,3.4],[4.9,3.6],[3.3,1.46],[3.5,1.46],[3.7,1.46],[3.9,1.46],[4.1,1.46],[4.3,1.46],[3.6,1.7],[4.0,1.9],[4.4,2.2],[3.35,2.4],
 [1.6,2.45],[1.85,2.6],[2.05,2.75],[2.3,2.85],[2.5,2.95],[2.7,3.05],[2.85,3.15],[2.95,3.3],[3.02,3.5],[3.08,3.2],[3.1,2.85],[3.12,2.5],[3.12,2.15],[3.1,1.8],[3.08,1.55],[2.85,3.45],[2.6,3.25],[3.05,3.65],[2.35,3.1],[1.9,2.9],
 [2.5,3.9],[2.75,4.1],[2.95,3.85],[3.05,4.25]];

// ================= RENDERING =================
const FONT = "'Liberation Sans', Arial, sans-serif";
Chart.defaults.font.family = FONT;
Chart.defaults.color = '#000';
Chart.defaults.animation = false;
Chart.defaults.responsive = false;
Chart.defaults.events = [];
Chart.defaults.plugins.legend.display = false;
Chart.defaults.plugins.tooltip.enabled = false;
const SUP = {2:'²',3:'³',4:'⁴',5:'⁵'};
const X_MIN = 1.47, X_MAX = 5.42, Y_MIN = 1.43, Y_MAX = 5.40;
const colLeft = [94, 278, 453], rowTop = [307, 474, 642];
const FW = 145, FH = 127;

function mkCanvas(left, top, w, h) {
  const c = document.createElement('canvas');
  c.width = w; c.height = h;
  c.style.left = left + 'px'; c.style.top = top + 'px';
  c.style.width = w + 'px'; c.style.height = h + 'px';
  document.body.appendChild(c);
  return c;
}
const toXY = a => a.map(p => ({x: p[0], y: p[1]}));

const gpAxes = {
  id: 'gpAxes',
  afterDraw(chart, args, o) {
    const {ctx, chartArea: ca, scales: {x, y}} = chart;
    const ax = ca.left + o.offset;
    const dsN = chart.data.datasets.length;
    const meta = chart.getDatasetMeta(dsN - 1);
    const last = meta.data[meta.data.length - 1];
    const xEnd = last.x + last.width / 2;
    const y0 = y.getPixelForValue(0);
    ctx.save();
    ctx.strokeStyle = '#000'; ctx.lineWidth = o.lw; ctx.lineCap = 'square';
    ctx.beginPath();
    ctx.moveTo(ax, y.getPixelForValue(y.max)); ctx.lineTo(ax, y0); ctx.lineTo(xEnd, y0);
    ctx.stroke();
    ctx.lineCap = 'butt';
    ctx.beginPath();
    y.ticks.forEach(t => { const py = y.getPixelForValue(t.value); ctx.moveTo(ax - o.tick, py); ctx.lineTo(ax, py); });
    x.ticks.forEach((t, i) => { const px = x.getPixelForTick(i); ctx.moveTo(px, y0); ctx.lineTo(px, y0 + o.tick); });
    ctx.stroke();
    ctx.restore();
  }
};
const errBars = {
  id: 'errBars',
  afterDatasetsDraw(chart, args, o) {
    const {ctx, scales: {y}} = chart;
    ctx.save();
    ctx.strokeStyle = '#000'; ctx.fillStyle = '#000'; ctx.lineWidth = o.lw;
    chart.data.datasets.forEach((ds, di) => {
      const meta = chart.getDatasetMeta(di);
      meta.data.forEach((bar, i) => {
        const yt = y.getPixelForValue(ds.data[i] + ds.errors[i]);
        ctx.beginPath();
        ctx.moveTo(bar.x, bar.y); ctx.lineTo(bar.x, yt);
        ctx.moveTo(bar.x - o.cap, yt); ctx.lineTo(bar.x + o.cap, yt);
        ctx.stroke();
        if (ds.stars && ds.stars[i]) {
          ctx.font = o.font; ctx.textAlign = 'center'; ctx.textBaseline = 'alphabetic';
          ctx.fillText(ds.stars[i], bar.x, yt + o.dy);
        }
      });
    });
    ctx.restore();
  }
};
const sigMarks = {
  id: 'sigMarks',
  afterDraw(chart, args, o) {
    const {ctx, scales: {y}} = chart;
    ctx.save();
    ctx.strokeStyle = '#000'; ctx.fillStyle = '#000'; ctx.lineWidth = 1.2;
    ctx.font = o.font; ctx.textAlign = 'center'; ctx.textBaseline = 'alphabetic';
    sigBrackets.forEach(b => {
      const A = chart.getDatasetMeta(b.a).data[b.g], B = chart.getDatasetMeta(b.b).data[b.g];
      const xa = A.x + (b.a === 1 ? 2 : 0), xb = B.x - (b.b === 1 ? 1 : 0);
      const yt = y.getPixelForValue(b.top);
      ctx.beginPath();
      ctx.moveTo(xa, y.getPixelForValue(b.la)); ctx.lineTo(xa, yt); ctx.lineTo(xb, yt); ctx.lineTo(xb, y.getPixelForValue(b.lb));
      ctx.stroke();
      ctx.fillText(b.text, (xa + xb) / 2, yt + o.dy);
    });
    ctx.restore();
  }
};
const sideLegend = {
  id: 'sideLegend',
  afterDraw(chart, args, o) {
    const {ctx} = chart;
    ctx.save();
    chart.data.datasets.forEach((ds, i) => {
      const yc = o.y0 + i * o.dy;
      ctx.fillStyle = ds.backgroundColor; ctx.fillRect(o.x, yc - o.h / 2, o.w, o.h);
      ctx.strokeStyle = '#000'; ctx.lineWidth = 1.2; ctx.strokeRect(o.x, yc - o.h / 2, o.w, o.h);
      ctx.fillStyle = '#000'; ctx.font = o.font; ctx.textAlign = 'left'; ctx.textBaseline = 'middle';
      ctx.fillText(ds.label, o.tx, yc);
    });
    ctx.restore();
  }
};

const doseColors = ['#000000','#808080','#e6e6e6','#5c5c5c','#9c9c9c','#5c5c5c','#e8e8e8','#a2a2a2','#000000'];
function viabilityChart(o, values, errors, stars) {
  const c = mkCanvas(o.cl, o.ct, o.cw, o.ch);
  new Chart(c, {
    type: 'bar',
    data: {labels: doseLabels, datasets: [{data: values, errors: errors, stars: stars, backgroundColor: doseColors,
      borderColor: '#000', borderWidth: 1.3, borderSkipped: false, categoryPercentage: 1, barPercentage: 0.6}]},
    options: {
      layout: {padding: {top: o.caT - o.ct, right: o.cl + o.cw - o.caR, left: 0, bottom: 0}},
      scales: {
        x: {grid: {display: false, drawTicks: false}, border: {display: false},
            afterFit: s => { s.height = o.ct + o.ch - o.caB; },
            ticks: {autoSkip: false, minRotation: 46, maxRotation: 46, padding: 4, color: '#000', font: {size: 8.2, weight: 'bold'}}},
        y: {min: 0, max: 150, afterBuildTicks: s => { s.ticks = viaTicks.map(v => ({value: v})); },
            afterFit: s => { s.width = o.caL - o.cl; },
            grid: {display: false, drawTicks: false}, border: {display: false},
            ticks: {padding: o.tickPad, color: '#000', font: {size: 8.5, weight: 'bold'}},
            title: {display: true, text: 'Cell viability (%)', color: '#000', font: {size: 9, weight: 'bold'}, padding: {top: o.titlePad, bottom: 0}}}
      },
      plugins: {gpAxes: {offset: o.axisX - o.caL, lw: 1.3, tick: 4}, errBars: {lw: 1.1, cap: 3, font: 'bold 9px ' + FONT, dy: 1}}
    },
    plugins: [gpAxes, errBars]
  });
}
viabilityChart({cl: 0, ct: 18, cw: 222, ch: 214, caL: 41.75, caR: 211.85, caT: 33, caB: 150, axisX: 37, tickPad: 9.5, titlePad: 3}, via5, err5, sig5);
viabilityChart({cl: 250, ct: 18, cw: 217, ch: 214, caL: 287.25, caR: 457.35, caT: 35, caB: 151, axisX: 286.7, tickPad: 5.5, titlePad: 1.5}, via10, err10, sig10);
viabilityChart({cl: 480, ct: 18, cw: 218, ch: 214, caL: 518.25, caR: 688.35, caT: 39, caB: 152, axisX: 516.7, tickPad: 6.5, titlePad: 8}, via15, err15, sig15);

const flowDecor = {
  id: 'flowDecor',
  afterDraw(chart, args, o) {
    const {ctx, chartArea: a, scales: {x, y}} = chart;
    const gx = x.getPixelForValue(o.gx), gy = y.getPixelForValue(o.gy);
    ctx.save();
    ctx.strokeStyle = '#333'; ctx.lineWidth = 1.2;
    ctx.beginPath();
    ctx.moveTo(gx, a.top); ctx.lineTo(gx, a.bottom);
    ctx.moveTo(a.left, gy); ctx.lineTo(a.right, gy);
    ctx.stroke();
    ctx.strokeRect(a.left, a.top, a.right - a.left, a.bottom - a.top);
    ctx.lineWidth = 1; ctx.beginPath();
    for (let n = 1; n <= 5; n++) for (let k = 1; k <= 9; k++) {
      const v = n + Math.log10(k), len = k === 1 ? 5 : 2.5;
      if (v >= x.min && v <= x.max) { const px = x.getPixelForValue(v); ctx.moveTo(px, a.bottom); ctx.lineTo(px, a.bottom + len); }
      if (v >= y.min && v <= y.max) { const py = y.getPixelForValue(v); ctx.moveTo(a.left, py); ctx.lineTo(a.left - len, py); }
    }
    ctx.stroke();
    ctx.fillStyle = '#222'; ctx.font = '9px ' + FONT; ctx.textAlign = 'center'; ctx.textBaseline = 'alphabetic';
    flowDecades.forEach(v => {
      ctx.save(); ctx.translate(a.left - 5.5, y.getPixelForValue(v)); ctx.rotate(-Math.PI / 2);
      ctx.fillText('10' + SUP[v], 0, 0); ctx.restore();
    });
    ctx.font = '10px ' + FONT; ctx.textBaseline = 'middle';
    ctx.textAlign = 'left';
    ctx.fillText(o.pct[0], a.left + 4, a.top + 7);
    ctx.fillText(o.pct[2], a.left + 3, gy + 6);
    ctx.textAlign = 'right';
    ctx.fillText(o.pct[1], a.right - 4, a.top + 7);
    ctx.fillText(o.pct[3], a.right - 4, gy + 6);
    ctx.fillText('Q1', gx + o.q[0], gy + o.q[2]);
    ctx.fillText('Q3', gx + o.q[0], gy + o.q[3]);
    ctx.textAlign = 'left';
    ctx.fillText('Q2', gx + o.q[1], gy + o.q[2]);
    ctx.fillText('Q4', gx + o.q[1], gy + o.q[3]);
    ctx.fillStyle = '#111'; ctx.fillRect(gx + 18, a.top - 2.5, 7, 2);
    ctx.restore();
  }
};
const qOffRow = [[-20, 16, -19, 24], [-20, 16, -19, 23], [-6, 3, -19, 9]];
function flowPlot(r, cI, core, fringe, clust, dots, pct) {
  const L = colLeft[cI], T = rowTop[r];
  const c = mkCanvas(L - 40, T - 6, FW + 46, FH + 42);
  const ptDs = (d, rad, col) => ({data: toXY(d), pointRadius: rad, pointBackgroundColor: col, pointBorderWidth: 0, clip: 0});
  new Chart(c, {
    type: 'scatter',
    data: {datasets: [ptDs(core, 7.2, '#ff0000'), ptDs(fringe, 2.1, 'rgba(255,0,0,0.85)'), ptDs(clust, 1.6, 'rgba(255,0,0,0.9)'), ptDs(dots, 1.0, 'rgba(255,0,0,0.9)')]},
    options: {
      layout: {padding: {top: 6, right: 6, left: 0, bottom: 0}},
      scales: {
        x: {type: 'linear', min: X_MIN, max: X_MAX, afterBuildTicks: s => { s.ticks = flowDecades.map(v => ({value: v})); },
            afterFit: s => { s.height = 36; }, grid: {display: false, drawTicks: false}, border: {display: false},
            ticks: {padding: 7, color: '#222', font: {size: 9}, autoSkip: false, maxRotation: 0, callback: v => '10' + SUP[v]},
            title: {display: true, text: 'FITC-A', color: '#222', font: {size: 10.5}, padding: {top: 0, bottom: 1.5}}},
        y: {type: 'linear', min: Y_MIN, max: Y_MAX, afterFit: s => { s.width = 40; },
            grid: {display: false, drawTicks: false}, border: {display: false}, ticks: {display: false},
            title: {display: true, text: 'PI-A', color: '#222', font: {size: 10.5}, padding: {top: 13.5, bottom: 0}}}
      },
      plugins: {flowDecor: {gx: gateFITC[r][cI], gy: gatePI[r], pct: pct, q: qOffRow[r]}}
    },
    plugins: [flowDecor]
  });
}
flowPlot(0, 0, c24Core, c24Fringe, c24Clust, c24Dots, pct24[0]);
flowPlot(0, 1, i24Core, i24Fringe, i24Clust, i24Dots, pct24[1]);
flowPlot(0, 2, s24Core, s24Fringe, s24Clust, s24Dots, pct24[2]);
flowPlot(1, 0, c48Core, c48Fringe, c48Clust, c48Dots, pct48[0]);
flowPlot(1, 1, i48Core, i48Fringe, i48Clust, i48Dots, pct48[1]);
flowPlot(1, 2, s48Core, s48Fringe, s48Clust, s48Dots, pct48[2]);
flowPlot(2, 0, c72Core, c72Fringe, c72Clust, c72Dots, pct72[0]);
flowPlot(2, 1, i72Core, i72Fringe, i72Clust, i72Dots, pct72[1]);
flowPlot(2, 2, s72Core, s72Fringe, s72Clust, s72Dots, pct72[2]);

(function () {
  const c = mkCanvas(95, 805, 604, 198);
  const common = {borderColor: '#000', borderWidth: 1.3, borderSkipped: false, categoryPercentage: 0.755, barPercentage: 0.85};
  new Chart(c, {
    type: 'bar',
    data: {labels: timeLabels, datasets: [
      Object.assign({label: groupNames[0], data: apoCtrl, errors: apoCtrlErr, backgroundColor: '#000000'}, common),
      Object.assign({label: groupNames[1], data: apoIR, errors: apoIRErr, backgroundColor: '#a6a6a6'}, common),
      Object.assign({label: groupNames[2], data: apoSdr, errors: apoSdrErr, backgroundColor: '#7f7f7f'}, common)
    ]},
    options: {
      layout: {padding: {top: 33, right: 325.25, left: 0, bottom: 0}},
      scales: {
        x: {grid: {display: false, drawTicks: false}, border: {display: false}, afterFit: s => { s.height = 21; },
            ticks: {padding: 7, color: '#000', font: {size: 13, weight: 'bold'}}},
        y: {min: 0, max: 20, afterBuildTicks: s => { s.ticks = apoTicks.map(v => ({value: v})); }, afterFit: s => { s.width = 58.25; },
            grid: {display: false, drawTicks: false}, border: {display: false},
            ticks: {padding: 8.5, color: '#000', font: {size: 11, weight: 'bold'}},
            title: {display: true, text: ['Percentage of', 'apoptosis(%)'], color: '#000', font: {size: 11, weight: 'bold'}, padding: {top: 6.4, bottom: 0}}}
      },
      plugins: {
        gpAxes: {offset: 4.75, lw: 1.3, tick: 5},
        errBars: {lw: 1.2, cap: 3.5, font: 'bold 12px ' + FONT, dy: 0},
        sigMarks: {font: 'bold 13px ' + FONT, dy: 0},
        sideLegend: {x: 292, w: 16, h: 9, y0: 43, dy: 19.3, tx: 315, font: '13px ' + FONT}
      }
    },
    plugins: [gpAxes, errBars, sigMarks, sideLegend]
  });
})();
</script>
</body></html>
